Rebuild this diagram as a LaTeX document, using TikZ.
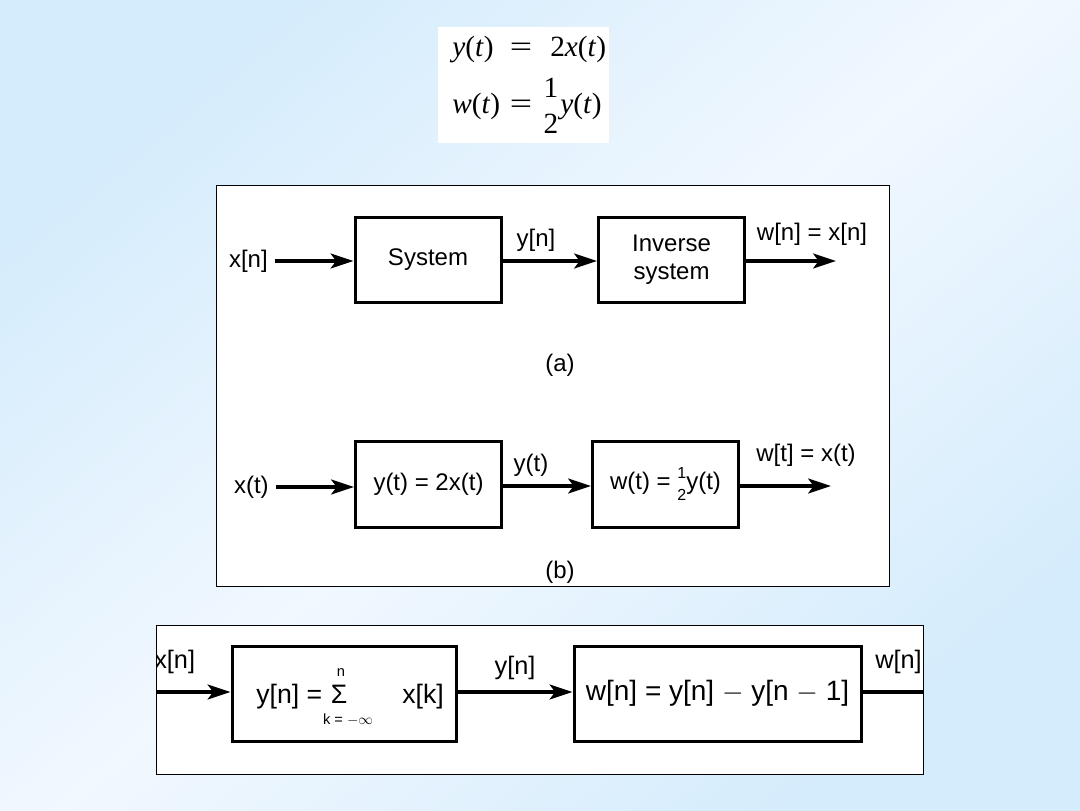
\documentclass[tikz,border=0pt]{standalone}
\usepackage{fontspec}
\setmainfont{Liberation Sans}
\newfontfamily\serifff{Liberation Serif}
\usetikzlibrary{arrows.meta}
\definecolor{bgblue}{RGB}{213,236,252}
\definecolor{bglight}{RGB}{241,248,255}
\begin{document}
\begin{tikzpicture}[x=0.75pt,y=-0.75pt,
  blk/.style={draw, line width=2.25pt, fill=white, inner sep=0pt},
  lbl/.style={inner sep=0pt, font=\fontsize{18}{20}\selectfont},
  lblc/.style={inner sep=0pt, font=\fontsize{19}{21}\selectfont},
  txtc/.style={inner sep=0pt, font=\fontsize{20}{22}\selectfont},
  eqf/.style={inner sep=0pt, font=\serifff\fontsize{22}{24}\selectfont},
  arr/.style={line width=3pt, -{Stealth[length=17pt,width=11pt,inset=4pt]}},
  panel/.style={draw, line width=0.75pt, fill=white}]
\useasboundingbox (0,0) rectangle (1080,810);
\shade[top color=bgblue, bottom color=bgblue, middle color=bglight, shading angle=40] (0,0) rectangle (1080,810);

% top equations
\fill[white] (438,27) rectangle (609,143);
\node[eqf, anchor=base west] (e1l) at (452,56) {\textit{y}(\textit{t})};
\node[eqf, anchor=base] (e1q) at (521,56) {\scalebox{1.35}[1]{=}};
\node[eqf, anchor=base west] (e1r) at (550,56) {2\textit{x}(\textit{t})};
\node[eqf, anchor=base west] (e2l) at (452,113) {\textit{w}(\textit{t})};
\node[eqf, anchor=base] (e2q) at (521,113) {\scalebox{1.35}[1]{=}};
\node[eqf, anchor=base] (e2n) at (551,97) {1};
\node[eqf, anchor=base] (e2d) at (551,133) {2};
\node[eqf, anchor=base west] (e2r) at (560,113) {\textit{y}(\textit{t})};

% panel (a)+(b)
\draw[panel] (216,185) rectangle (889,586);
% (a)
\node[blk, minimum width=109.5pt, minimum height=63.75pt, font=\fontsize{18}{20}\selectfont] (sys) at (428,260) {System};
\node[blk, minimum width=109.5pt, minimum height=63.75pt, align=center, font=\fontsize{18}{21}\selectfont] (inv) at (671.5,260) {Inverse\\system};
\node[lbl, anchor=east] (xa) at (268,261) {x[n]};
\node[lbl] (ya) at (536,240) {y[n]};
\node[lbl] (wa) at (812,234) {w[n] = x[n]};
\coordinate (oa) at (836,261);
\draw[arr, shorten <=5pt] (xa.east) -- (sys.west |- xa.east);
\draw[arr] (sys.east |- xa.east) -- (inv.west |- xa.east);
\draw[arr] (inv.east |- xa.east) -- (oa);
\node[lbl] (capa) at (560,365) {(a)};
% (b)
\node[blk, minimum width=109.5pt, minimum height=64.5pt, font=\fontsize{18}{20}\selectfont] (b1) at (428.5,484) {y(t) = 2x(t)};
\node[blk, minimum width=109.5pt, minimum height=64.5pt, font=\fontsize{18}{20}\selectfont] (b2) at (665.5,484) {w(t) = $\vcenter{\hbox{\fontsize{12}{12}\selectfont\shortstack{1\\[5pt]2}}}$y(t)};
\node[lbl, anchor=east] (xb) at (269,487) {x(t)};
\node[lbl] (yb) at (531,465) {y(t)};
\node[lbl] (wb) at (806,455) {w[t] = x(t)};
\coordinate (ob) at (831,486);
\draw[arr, shorten <=5pt] (xb.east) -- (b1.west |- xb.east);
\draw[arr] (b1.east |- ob) -- (b2.west |- ob);
\draw[arr] (b2.east |- ob) -- (ob);
\node[lbl] (capb) at (560,572) {(b)};

% bottom panel
\fill[white] (156,625) rectangle (923,774);
\node[blk, minimum width=168pt, minimum height=71.25pt] (c1) at (344,693.5) {};
\node[blk, minimum width=215.25pt, minimum height=71.25pt, font=\fontsize{21}{23}\selectfont] (c2) at (717.5,693.5) {w[n] = y[n] $-$ y[n $-$ 1]};
\node[txtc, anchor=base west] (c1a) at (256,703) {y[n] =};
\node[txtc, anchor=base] (c1s) at (339,703) {Σ};
\node[inner sep=0pt, font=\fontsize{11}{12}\selectfont, anchor=base] (c1n) at (341,676) {n};
\node[inner sep=0pt, font=\fontsize{11}{12}\selectfont, anchor=base] (c1k) at (348,724) {k = $-\infty$};
\node[txtc, anchor=base west] (c1x) at (402,703) {x[k]};
\begin{scope}
\clip (156,625) rectangle (923,774);
\coordinate (cin) at (155,692);
\coordinate (cout) at (924,692);
\node[lblc, anchor=west] (xc) at (154,662) {x[n]};
\node[lblc] (yc) at (515,668) {y[n]};
\node[lblc, anchor=east] (wc) at (922,662) {w[n]};
\draw[arr] (cin) -- (c1.west |- cin);
\draw[arr] (c1.east |- cin) -- (c2.west |- cin);
\draw[line width=3.5pt] (c2.east |- cin) -- (cout);
\end{scope}
\draw[line width=0.75pt] (156,625) rectangle (923,774);
\end{tikzpicture}
\end{document}
